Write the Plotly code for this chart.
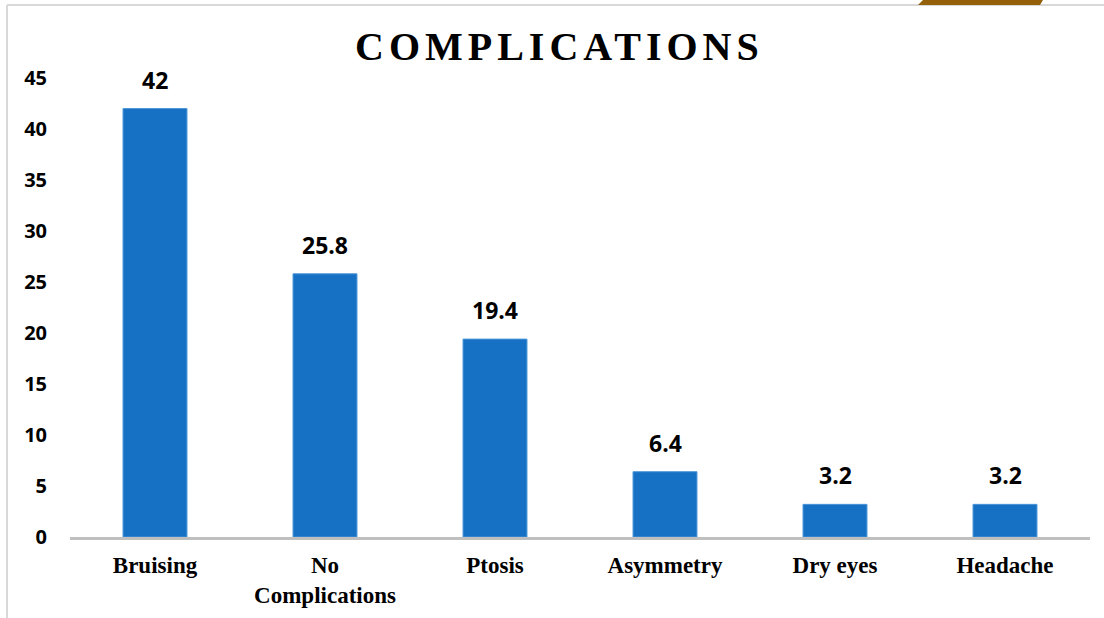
import plotly.graph_objects as go

# Complication rates (%)
categories = ["Bruising", "No<br>Complications", "Ptosis", "Asymmetry", "Dry eyes", "Headache"]
values = [42, 25.8, 19.4, 6.4, 3.2, 3.2]
value_labels = ["42", "25.8", "19.4", "6.4", "3.2", "3.2"]
y_ticks = [0, 5, 10, 15, 20, 25, 30, 35, 40, 45]

W, H = 1104, 618
M_L, M_R, M_T, M_B = 70, 14, 78, 81
PW, PH = W - M_L - M_R, H - M_T - M_B


def px_x(px):
    return (px - M_L) / PW


def px_y(py):
    return (H - M_B - py) / PH


fig = go.Figure()
fig.add_trace(go.Bar(
    x=categories,
    y=values,
    marker=dict(color="#1671c4", line=dict(color="#4a94d8", width=1)),
    hoverinfo="x+y",
))

for cat, v, lab in zip(categories, values, value_labels):
    fig.add_annotation(
        x=cat, y=v, text=lab, showarrow=False,
        xanchor="center", yanchor="bottom", yshift=11,
        font=dict(family="Open Sans", size=23, color="#000000", weight="bold"),
    )

# frame lines along the top and left edges, plus the small tab at the top
fig.add_shape(type="line", xref="paper", yref="paper",
              x0=px_x(7), x1=px_x(W), y0=px_y(5), y1=px_y(5),
              line=dict(color="#d9d9d9", width=2))
fig.add_shape(type="line", xref="paper", yref="paper",
              x0=px_x(7), x1=px_x(7), y0=px_y(5), y1=px_y(H),
              line=dict(color="#d9d9d9", width=2))
fig.add_shape(type="path", xref="paper", yref="paper",
              path=(f"M {px_x(918)} {px_y(5)} L {px_x(923)} {px_y(0)} "
                    f"L {px_x(1043)} {px_y(0)} L {px_x(1040)} {px_y(5)} Z"),
              fillcolor="#94600a", line=dict(width=0))

fig.update_layout(
    width=W, height=H,
    margin=dict(l=M_L, r=M_R, t=M_T, b=M_B, autoexpand=False),
    paper_bgcolor="white", plot_bgcolor="white",
    showlegend=False,
    bargap=0.624,
    title=dict(
        text='<span style="letter-spacing:5px">COMPLICATIONS</span>',
        x=355 / W, xanchor="left", xref="container",
        y=1 - 46 / H, yanchor="middle", yref="container",
        font=dict(family="Liberation Serif", size=40, color="#000000", weight="bold"),
    ),
    xaxis=dict(
        automargin=False,
        showgrid=False, zeroline=False,
        showline=True, linecolor="#bfbfbf", linewidth=3,
        ticks="", ticklabelstandoff=5,
        tickfont=dict(family="Liberation Serif", size=23, color="#000000", weight="bold"),
    ),
    yaxis=dict(
        automargin=False,
        range=[0, 45], tickvals=y_ticks,
        showgrid=False, zeroline=False, showline=False,
        ticks="", ticklabelstandoff=22,
        tickfont=dict(family="Open Sans", size=20, color="#000000", weight="bold"),
    ),
)

fig.write_html("out.html")
